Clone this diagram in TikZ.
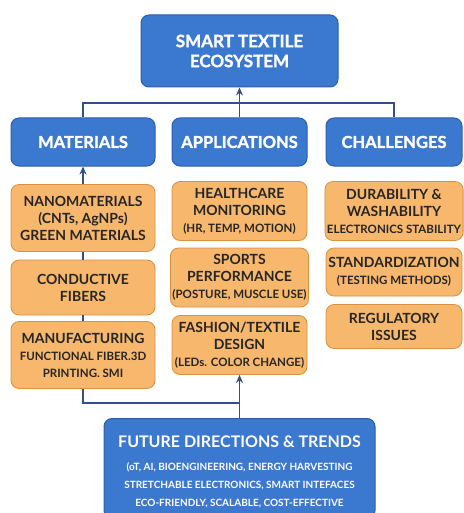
\documentclass[tikz,border=0pt]{standalone}
\usepackage{fontspec}
\setmainfont{Lato}
\newfontfamily\heavyfont{Lato}[BoldFeatures={FakeBold=1.6}]
\usetikzlibrary{arrows.meta}

\definecolor{boxblue}{HTML}{3B78CF}
\definecolor{edgeblue}{HTML}{2B5FAE}
\definecolor{boxorange}{HTML}{F7B76C}
\definecolor{edgeorange}{HTML}{D9913F}
\definecolor{linkblue}{HTML}{2F4F8F}

\newcommand{\headtext}{\fontsize{16.5}{20}\selectfont}
\newcommand{\bigtext}{\fontsize{14}{17}\selectfont}
\newcommand{\smalltext}{\fontsize{11.5}{14}\selectfont}

\tikzset{
    bluebox/.style={draw=edgeblue, fill=boxblue, text=white, rounded corners=8pt,
        line width=1pt, align=center, font=\heavyfont\bfseries\headtext},
    orangebox/.style={draw=edgeorange, fill=boxorange, text=black!85, rounded corners=8pt,
        line width=0.8pt, align=center, font=\bfseries\bigtext, inner sep=2pt},
    link/.style={draw=linkblue, line width=1.2pt},
    >={Stealth[length=8pt,width=7pt]}
}

\begin{document}
\begin{tikzpicture}[x=1pt, y=-1pt]
        \useasboundingbox (0, 0) rectangle (463, 513);

        \node[bluebox, minimum width=197pt, minimum height=72pt, font=\heavyfont\bfseries\fontsize{17}{20}\selectfont] (T) at (239.5, 51) {SMART TEXTILE\\ECOSYSTEM};

        \node[bluebox, minimum width=144pt, minimum height=48pt] (M) at (83, 142) {MATERIALS};
        \node[bluebox, minimum width=135pt, minimum height=48pt] (A) at (239.5, 142) {APPLICATIONS};
        \node[bluebox, minimum width=136pt, minimum height=48pt] (C) at (394, 142) {CHALLENGES};

        \node[orangebox, minimum width=144pt, minimum height=67pt] (NM) at (83, 218) {NANOMATERIALS\\(CNTs, AgNPs)\\GREEN MATERIALS};
        \node[orangebox, minimum width=144pt, minimum height=55pt] (CF) at (83, 287.5) {CONDUCTIVE\\FIBERS};
        \node[orangebox, minimum width=144pt, minimum height=67pt] (MF) at (83, 355) {MANUFACTURING\\{\smalltext FUNCTIONAL FIBER.3D}\\{\smalltext PRINTING. SMI}};

        \node[orangebox, minimum width=135pt, minimum height=59pt] (HC) at (239.5, 211) {HEALTHCARE\\MONITORING\\{\smalltext (HR, TEMP, MOTION)}};
        \node[orangebox, minimum width=135pt, minimum height=59pt] (SP) at (239.5, 277.5) {SPORTS\\PERFORMANCE\\{\smalltext (POSTURE, MUSCLE USE)}};
        \node[orangebox, minimum width=135pt, minimum height=59pt] (FT) at (239.5, 345) {FASHION/TEXTILE\\DESIGN\\{\smalltext (LEDs. COLOR CHANGE)}};

        \node[orangebox, minimum width=136pt, minimum height=59pt] (DW) at (394, 211) {DURABILITY \&\\WASHABILITY\\{\smalltext ELECTRONICS STABILITY}};
        \node[orangebox, minimum width=136pt, minimum height=48pt] (ST) at (394, 272) {STANDARDIZATION\\{\smalltext (TESTING METHODS)}};
        \node[orangebox, minimum width=136pt, minimum height=44pt] (RI) at (394, 326.5) {REGULATORY\\ISSUES};

        \node[bluebox, minimum width=271pt, minimum height=100pt, anchor=north] (FD) at (239.5, 418) {};
        \node[text=white, font=\bfseries\fontsize{16}{20}\selectfont] (FDT) at (239.5, 442) {FUTURE DIRECTIONS \& TRENDS};
        \node[text=white, font=\bfseries\fontsize{10}{18}\selectfont, align=center, anchor=north] (FDL) at (239.5, 459)
            {(oT, AI, BIOENGINEERING, ENERGY HARVESTING\\STRETCHABLE ELECTRONICS, SMART INTEFACES\\ECO-FRIENDLY, SCALABLE, COST-EFFECTIVE};

        \coordinate (J) at (239.5, 103);
        \coordinate (K) at (239.5, 403);

        \draw[link] (M.north) |- (J) -| (C.north);
        \draw[link, ->] (A.north) -- (T.south);
        \draw[link, ->] (NM.north) -- (M.south);
        \draw[link] (NM.south) -- (CF.north);
        \draw[link] (CF.south) -- (MF.north);
        \draw[link] (MF.south) |- (K);
        \draw[link, ->] (FD.north) -- (FT.south);
    \end{tikzpicture}
\end{document}
